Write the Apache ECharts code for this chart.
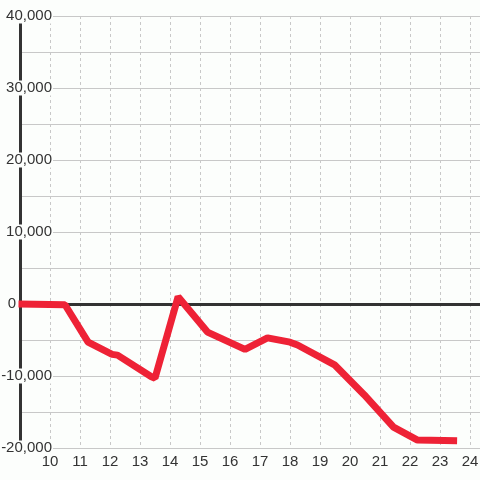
<!DOCTYPE html>
<html>
<head>
<meta charset="utf-8">
<script src="https://cdn.jsdelivr.net/npm/echarts@6/dist/echarts.min.js"></script>
<style>
  html, body { margin: 0; padding: 0; background: #fcfefc; }
  #main { width: 480px; height: 480px; }
</style>
</head>
<body>
<div id="main"></div>
<script>
// x positions (hours) and values
const xValues = [8.95, 10.5, 11.27, 12.07, 12.25, 13.38, 13.5, 14.27, 15.25, 16.5, 17.25, 18.0, 18.25, 19.5, 20.47, 21.45, 22.25, 23.57]
const yValues = [0, -100, -5300, -7000, -7100, -10100, -10300, 1000, -3900, -6300, -4700, -5300, -5700, -8500, -12600, -17100, -18900, -19000]
const xTicks = [10, 11, 12, 13, 14, 15, 16, 17, 18, 19, 20, 21, 22, 23, 24]
const yTicks = [-20000, -10000, 0, 10000, 20000, 30000, 40000]

const bg = '#fcfefc'
const lineData = xValues.map((x, i) => [x, yValues[i]])

var myChart = echarts.init(document.getElementById('main'))
var option = {
  backgroundColor: bg,
  animation: false,
  grid: {
    left: 20,
    right: 0,
    top: 16,
    bottom: 32,
    containLabel: false,
    outerBoundsMode: 'none',
  },
  xAxis: {
    type: 'value',
    min: 9,
    max: 24.333,
    interval: 1,
    axisLine: { show: false, onZero: false },
    axisTick: { show: false },
    axisLabel: {
      margin: 6,
      fontSize: 15,
      fontFamily: 'Liberation Sans',
      color: '#333',
      formatter: function (v) {
        return xTicks.indexOf(v) >= 0 ? String(v) : ''
      },
    },
    splitLine: {
      show: true,
      showMaxLine: false,
      lineStyle: { color: '#c8c8c8', type: [3, 3], width: 1 },
    },
  },
  yAxis: {
    type: 'value',
    min: yTicks[0],
    max: yTicks[yTicks.length - 1],
    interval: 10000,
    axisLine: {
      show: true,
      onZero: false,
      lineStyle: { color: '#333', width: 3 },
    },
    axisTick: { show: false },
    minorTick: { show: false, splitNumber: 2 },
    minorSplitLine: {
      show: true,
      lineStyle: { color: '#c8c8c8', width: 1 },
    },
    splitLine: {
      show: true,
      lineStyle: { color: '#c8c8c8', width: 1 },
    },
    axisLabel: {
      margin: -33,
      align: 'right',
      fontSize: 15,
      fontFamily: 'Liberation Sans',
      color: '#333',
      formatter: function (v) {
        if (v === 0) return '{z|0}'
        return '{n|' + v.toLocaleString('en-US') + '}'
      },
      rich: {
        n: {
          fontSize: 15,
          fontFamily: 'Liberation Sans',
          color: '#333',
          backgroundColor: bg,
          padding: [0, 1, 0, 1],
          lineHeight: 16,
        },
        z: {
          fontSize: 15,
          fontFamily: 'Liberation Sans',
          color: '#333',
          padding: [0, 37, 0, 0],
          lineHeight: 16,
        },
      },
    },
  },
  series: [
    {
      type: 'line',
      data: lineData,
      symbol: 'none',
      clip: false,
      lineStyle: { color: '#ee2236', width: 7 },
      z: 3,
      markLine: {
        silent: true,
        symbol: 'none',
        label: { show: false },
        lineStyle: { color: '#333', width: 3, type: 'solid' },
        data: [{ yAxis: 0 }],
        z: 2,
      },
    },
  ],
}

option && myChart.setOption(option)
</script>
</body>
</html>
